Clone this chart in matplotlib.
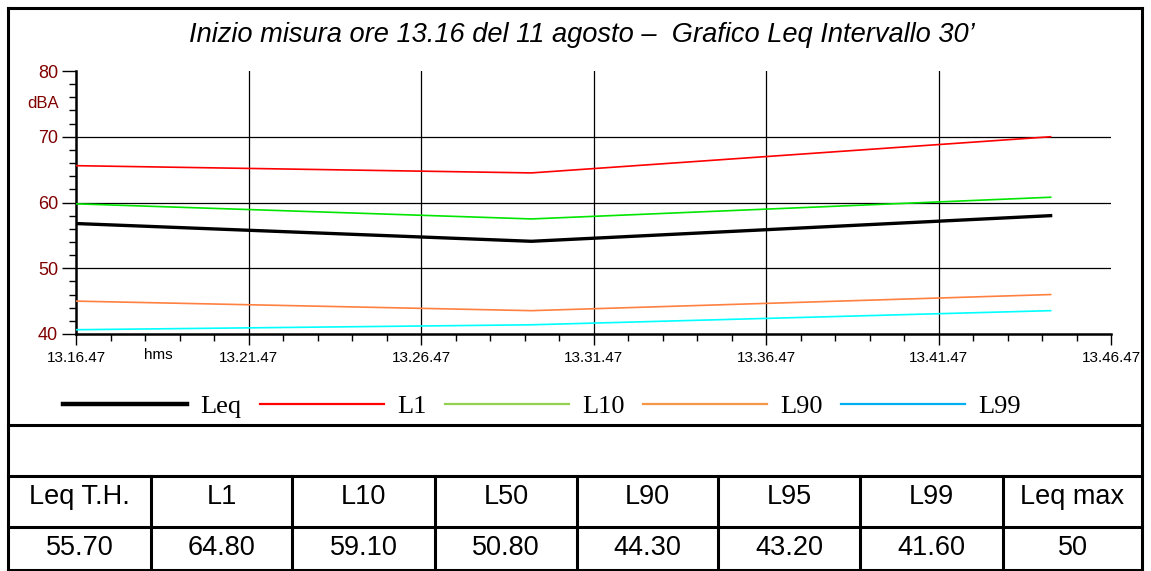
import matplotlib
matplotlib.use("Agg")
import matplotlib.pyplot as plt
from matplotlib.lines import Line2D
from matplotlib.ticker import MultipleLocator, FixedLocator

# minuti trascorsi dall'inizio misura (13.16.47)
minuti = [0.0, 13.2, 28.25]
leq = [56.8, 54.1, 58.0]
l1 = [65.6, 64.5, 70.0]
l10 = [59.8, 57.5, 60.8]
l90 = [45.0, 43.55, 46.0]
l99 = [40.65, 41.4, 43.55]

tick_x = [0, 5, 10, 15, 20, 25, 30]
etichette_x = ["13.16.47", "13.21.47", "13.26.47", "13.31.47", "13.36.47", "13.41.47", "13.46.47"]
serie = ["Leq", "L1", "L10", "L90", "L99"]
colori_linee = ["#000000", "#ff0000", "#00e600", "#ff8040", "#00ffff"]
colori_legenda = ["#000000", "#ff0000", "#92d050", "#f79646", "#00b0f0"]

intestazioni = ["Leq T.H.", "L1", "L10", "L50", "L90", "L95", "L99", "Leq max"]
valori = ["55.70", "64.80", "59.10", "50.80", "44.30", "43.20", "41.60", "50"]

W, H = 1151, 571
fig = plt.figure(figsize=(W / 100, H / 100), dpi=100)

# strato in pixel per cornice e tabella
bg = fig.add_axes([0, 0, 1, 1])
bg.set_xlim(0, W)
bg.set_ylim(H, 0)
bg.axis("off")

bordo = dict(color="black", lw=2.2, solid_capstyle="projecting")
bg.plot([8, 8], [8, H], **bordo)
bg.plot([1142, 1142], [8, H], **bordo)
bg.plot([8, 1142], [8, 8], **bordo)
for y in [424.5, 476, 527]:
    bg.plot([8, 1142], [y, y], **bordo)
bg.plot([8, 1142], [H - 1, H - 1], **bordo)

colonne = [8, 151, 292, 435, 577, 718, 860, 1003, 1142]
for x in colonne[1:-1]:
    bg.plot([x, x], [476, H], **bordo)
for i in range(len(intestazioni)):
    xc = (colonne[i] + colonne[i + 1]) / 2
    bg.text(xc, 504, intestazioni[i], ha="center", va="baseline",
            fontsize=19.5, family="Liberation Sans")
    bg.text(xc, 555, valori[i], ha="center", va="baseline",
            fontsize=19.5, family="Liberation Sans")

bg.text(582, 35, "Inizio misura ore 13.16 del 11 agosto \u2013  Grafico Leq Intervallo 30\u2019",
        ha="center", va="center", fontsize=19.6, style="italic", family="Liberation Sans")

# grafico
ax = fig.add_axes([76 / W, (H - 334) / H, 1035 / W, 263 / H])
ax.set_xlim(0, 30)
ax.set_ylim(40, 80)
for i, nome in enumerate(serie):
    ax.plot(minuti, [leq, l1, l10, l90, l99][i], color=colori_linee[i],
            lw=2.4 if nome == "Leq" else 1.2, zorder=3)

for s in ["top", "right"]:
    ax.spines[s].set_visible(False)
for s in ["left", "bottom"]:
    ax.spines[s].set_linewidth(1.8)

ax.xaxis.set_major_locator(FixedLocator(tick_x))
ax.xaxis.set_minor_locator(MultipleLocator(1))
ax.set_xticklabels(etichette_x, fontsize=11, family="Liberation Sans")
ax.yaxis.set_major_locator(MultipleLocator(10))
ax.yaxis.set_minor_locator(MultipleLocator(2))
ax.tick_params(axis="y", which="major", length=10, width=1, labelsize=13,
               labelcolor="#800000", pad=3)
ax.tick_params(axis="y", which="minor", length=5, width=1)
ax.tick_params(axis="x", which="major", length=8, width=1, pad=4)
ax.tick_params(axis="x", which="minor", length=5, width=1)
for t in ax.get_yticklabels():
    t.set_family("Liberation Sans")

for x in tick_x[1:-1]:
    ax.axvline(x, color="black", lw=0.9, zorder=1)
for y in [50, 60, 70]:
    ax.axhline(y, color="black", lw=0.9, zorder=1)

ax.text(-0.017, 75, "dBA", transform=ax.get_yaxis_transform(), ha="right",
        va="center", fontsize=12, color="#800000", family="Liberation Sans")
ax.text(2.4, -0.055, "hms", transform=ax.get_xaxis_transform(), ha="center",
        va="top", fontsize=11, family="Liberation Sans")

# legenda
maniglie = [Line2D([], [], color=c, lw=3.2 if n == "Leq" else 1.6)
            for n, c in zip(serie, colori_legenda)]
fig.legend(maniglie, serie, loc="center", bbox_to_anchor=(542 / W, (H - 406) / H),
           ncol=5, frameon=False, handlelength=4.7, handletextpad=0.5,
           columnspacing=0.7, prop={"family": "Liberation Serif", "size": 19})

fig.savefig("out.png", dpi=100)
